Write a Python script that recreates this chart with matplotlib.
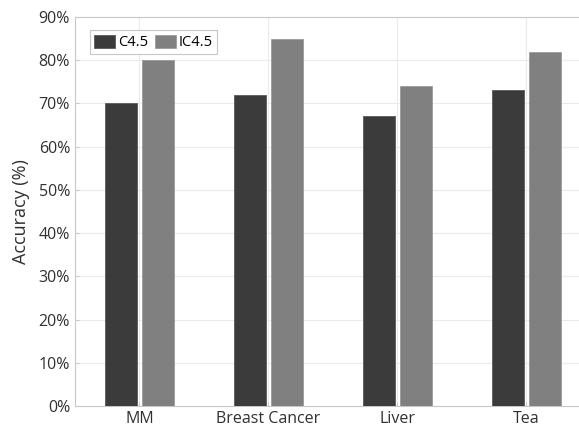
import numpy as np
import matplotlib.pyplot as plt
from matplotlib.ticker import PercentFormatter

# data
categories = ['MM', 'Breast Cancer', 'Liver', 'Tea']
c45 = [70, 72, 67, 73]
ic45 = [80, 85, 74, 82]

plt.rcParams['font.family'] = ['Open Sans', 'DejaVu Sans']

fig = plt.figure(figsize=(5.79, 4.32), dpi=100)
ax = fig.add_axes([0.1295, 0.0602, 0.891, 0.9004])

x = np.arange(len(categories))
w = 0.25
ax.bar(x - 0.145, c45, w, color='#3b3b3b', edgecolor='#5a5a5a', linewidth=0.6, label='C4.5', zorder=3)
ax.bar(x + 0.145, ic45, w, color='#808080', edgecolor='#9a9a9a', linewidth=0.6, label='IC4.5', zorder=3)

ax.set_xlim(-0.5, 3.5)
ax.set_ylim(0, 90)
ax.set_yticks(range(0, 91, 10))
ax.yaxis.set_major_formatter(PercentFormatter(decimals=0))
ax.set_xticks(x)
ax.set_xticklabels(categories)
ax.set_ylabel('Accuracy (%)', fontsize=13, color='#303030', labelpad=6)

ax.grid(True, color='#ebebeb', linewidth=0.8, zorder=0)
for s in ax.spines.values():
    s.set_color('#c8c8c8')
ax.tick_params(colors='#303030', labelsize=11.5, length=3, direction='in')
ax.tick_params(axis='both', color='#c8c8c8')

leg = ax.legend(loc='upper left', bbox_to_anchor=(0.015, 0.985), ncol=2, fontsize=10.5,
                handlelength=1.4, handleheight=1.0, handletextpad=0.2, columnspacing=0.5,
                borderpad=0.3, fancybox=False, edgecolor='#c8c8c8', framealpha=1)
leg.get_frame().set_linewidth(0.8)

fig.savefig('out.png', dpi=100)
